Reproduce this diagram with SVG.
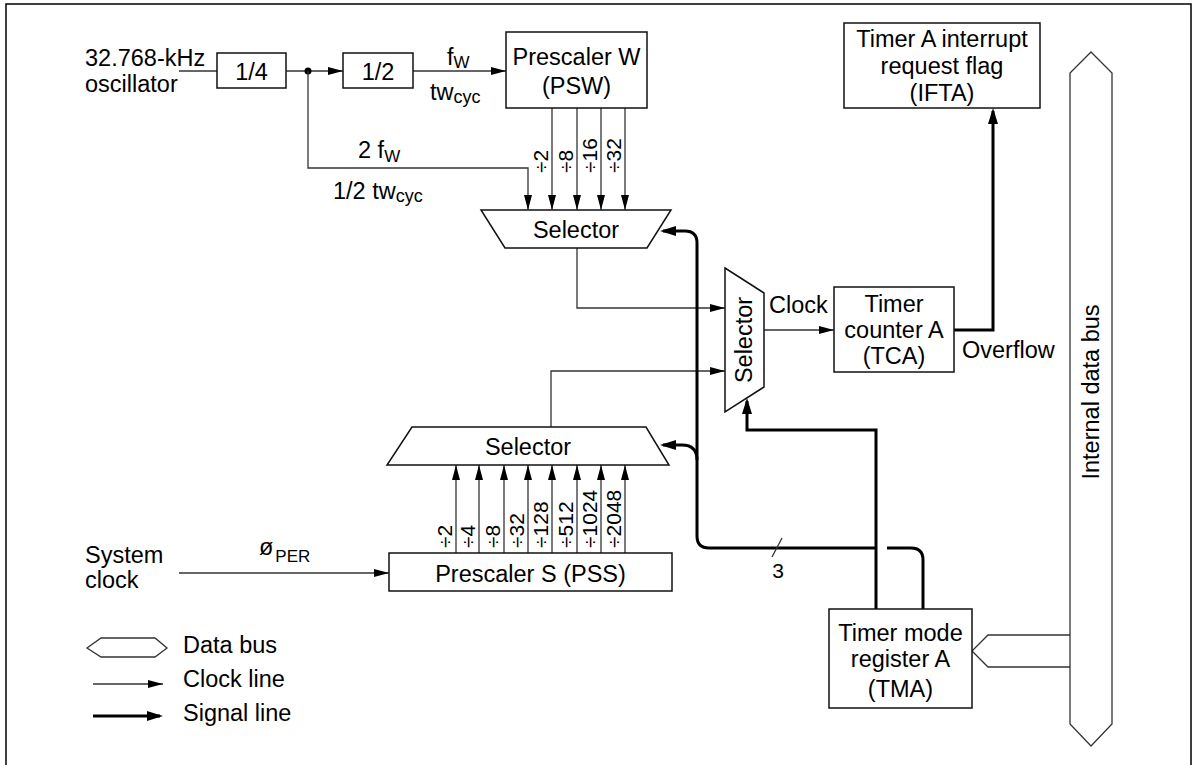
<svg xmlns="http://www.w3.org/2000/svg" width="1200" height="765" viewBox="0 0 1200 765">
<style>
text{font-family:"Liberation Sans",Arial,sans-serif;font-size:23.5px;fill:#000}
.m{text-anchor:middle}
.d{font-size:21px}
.box{fill:#fff;stroke:#111;stroke-width:1.5}
.thin{fill:none;stroke:#333;stroke-width:1.3}
.thick{fill:none;stroke:#000;stroke-width:3}
.bus{fill:#fff;stroke:#333;stroke-width:1.3}
</style>
<defs>
<marker id="ah" markerUnits="userSpaceOnUse" markerWidth="15" markerHeight="8" refX="15" refY="4" orient="auto"><path d="M0,0L15,4L0,8z" fill="#000"/></marker>
<marker id="ahb" markerUnits="userSpaceOnUse" markerWidth="16" markerHeight="10" refX="13" refY="5" orient="auto"><path d="M0,0L16,5L0,10z" fill="#000"/></marker>
</defs>
<rect width="1200" height="765" fill="#fff"/>
<path d="M6,770V4H1191V770" fill="none" stroke="#000" stroke-width="1.5"/>

<g id="connectors">
<path class="thin" d="M179,71H217"/>
<path class="thin" d="M286,71H343" marker-end="url(#ah)"/>
<circle cx="308" cy="71" r="3.5" fill="#000"/>
<path class="thin" d="M413,71H506" marker-end="url(#ah)"/>
<path class="thin" d="M308,71V168H528V210" marker-end="url(#ah)"/>
<path class="thin" d="M552,108V210" marker-end="url(#ah)"/>
<path class="thin" d="M577,108V210" marker-end="url(#ah)"/>
<path class="thin" d="M601,108V210" marker-end="url(#ah)"/>
<path class="thin" d="M625,108V210" marker-end="url(#ah)"/>
<path class="thin" d="M577,248V308H725" marker-end="url(#ah)"/>
<path class="thin" d="M551,427V371H725" marker-end="url(#ah)"/>
<path class="thin" d="M764,330H834" marker-end="url(#ah)"/>
<path class="thin" d="M456,553V465" marker-end="url(#ah)"/>
<path class="thin" d="M479,553V465" marker-end="url(#ah)"/>
<path class="thin" d="M504,553V465" marker-end="url(#ah)"/>
<path class="thin" d="M528,553V465" marker-end="url(#ah)"/>
<path class="thin" d="M552,553V465" marker-end="url(#ah)"/>
<path class="thin" d="M577,553V465" marker-end="url(#ah)"/>
<path class="thin" d="M601,553V465" marker-end="url(#ah)"/>
<path class="thin" d="M625,553V465" marker-end="url(#ah)"/>
<path class="thin" d="M179,573H389" marker-end="url(#ah)"/>
<path class="thick" d="M954,330H993V111" marker-end="url(#ahb)"/>
<path class="thick" d="M923,609V560Q923,548 911,548H887"/>
<path class="thick" d="M877,548H709Q697,548 697,536V243Q697,231 685,231H663" marker-end="url(#ahb)"/>
<path class="thick" d="M697,460Q697,445 682,445H663" marker-end="url(#ahb)"/>
<path class="thick" d="M876,609V430H747V401" marker-end="url(#ahb)"/>
<path class="thin" d="M772,557L782,538"/>
<path class="bus" d="M1070,635H988L972,651L988,667H1070"/>
</g>

<g id="osc"><text x="85" y="66">32.768-kHz</text><text x="85" y="92">oscillator</text></g>
<g id="div4"><rect class="box" x="217" y="53" width="69" height="35"/><text class="m" x="251.5" y="80">1/4</text></g>
<g id="div2"><rect class="box" x="343" y="53" width="70" height="35"/><text class="m" x="378" y="80">1/2</text></g>
<g id="lbl-fw"><text x="447" y="65">f<tspan font-size="17" dy="3">W</tspan></text><text x="430" y="100">tw<tspan font-size="18" dy="3">cyc</tspan></text></g>
<g id="lbl-2fw"><text x="358" y="158">2 f<tspan font-size="17" dy="4">W</tspan></text><text x="333" y="199">1/2 tw<tspan font-size="18" dy="3">cyc</tspan></text></g>
<g id="psw"><rect class="box" x="506" y="32" width="141" height="76"/><text class="m" x="576.5" y="65">Prescaler W</text><text class="m" x="576.5" y="94">(PSW)</text></g>
<g id="psw-labels">
<text class="d" transform="translate(548,173) rotate(-90)">÷2</text>
<text class="d" transform="translate(573,173) rotate(-90)">÷8</text>
<text class="d" transform="translate(597,173) rotate(-90)">÷16</text>
<text class="d" transform="translate(621,173) rotate(-90)">÷32</text>
</g>
<g id="sel-w"><polygon class="box" points="481,210 671,210 647,248 505,248"/><text class="m" x="576" y="238">Selector</text></g>
<g id="sel-main"><polygon class="box" points="725,268 764,293 764,387 725,412"/><text class="m" transform="translate(752,340) rotate(-90)">Selector</text></g>
<g id="lbl-clock"><text x="769" y="313">Clock</text></g>
<g id="tca"><rect class="box" x="834" y="287" width="120" height="85"/><text class="m" x="894" y="312">Timer</text><text class="m" x="894" y="338">counter A</text><text class="m" x="894" y="364">(TCA)</text></g>
<g id="lbl-overflow"><text x="962" y="358">Overflow</text></g>
<g id="ifta"><rect class="box" x="844" y="23" width="196" height="85"/><text class="m" x="942" y="47">Timer A interrupt</text><text class="m" x="942" y="74">request flag</text><text class="m" x="942" y="101">(IFTA)</text></g>
<g id="sel-s"><polygon class="box" points="412,427 646,427 669,465 387,465"/><text class="m" x="528" y="455">Selector</text></g>
<g id="pss"><rect class="box" x="389" y="553" width="283" height="38"/><text class="m" x="530.5" y="582">Prescaler S (PSS)</text></g>
<g id="pss-labels">
<text class="d" transform="translate(452,548) rotate(-90)">÷2</text>
<text class="d" transform="translate(475,548) rotate(-90)">÷4</text>
<text class="d" transform="translate(500,548) rotate(-90)">÷8</text>
<text class="d" transform="translate(524,548) rotate(-90)">÷32</text>
<text class="d" transform="translate(548,548) rotate(-90)">÷128</text>
<text class="d" transform="translate(573,548) rotate(-90)">÷512</text>
<text class="d" transform="translate(597,548) rotate(-90)">÷1024</text>
<text class="d" transform="translate(621,548) rotate(-90)">÷2048</text>
</g>
<g id="sysclk"><text x="85" y="563">System</text><text x="85" y="588">clock</text><text x="259" y="555" font-size="15">ø<tspan font-size="17" dx="2" dy="7">PER</tspan></text></g>
<g id="lbl-3"><text class="m d" x="778" y="578">3</text></g>
<g id="tma"><rect class="box" x="829" y="609" width="143" height="99"/><text class="m" x="900.5" y="641">Timer mode</text><text class="m" x="900.5" y="667">register A</text><text class="m" x="900.5" y="697">(TMA)</text></g>
<g id="databus"><polygon class="bus" points="1091,52 1112,73 1112,724 1091,746 1070,724 1070,73"/><text class="m" transform="translate(1099,392) rotate(-90)">Internal data bus</text></g>
<g id="legend">
<polygon class="bus" points="87,648 101,638 155,638 167,648 155,657 101,657"/>
<text x="183" y="653">Data bus</text>
<path class="thin" d="M93,684H163" marker-end="url(#ah)"/>
<text x="183" y="687">Clock line</text>
<path class="thick" d="M93,716H160" marker-end="url(#ahb)"/>
<text x="183" y="721">Signal line</text>
</g>
</svg>
